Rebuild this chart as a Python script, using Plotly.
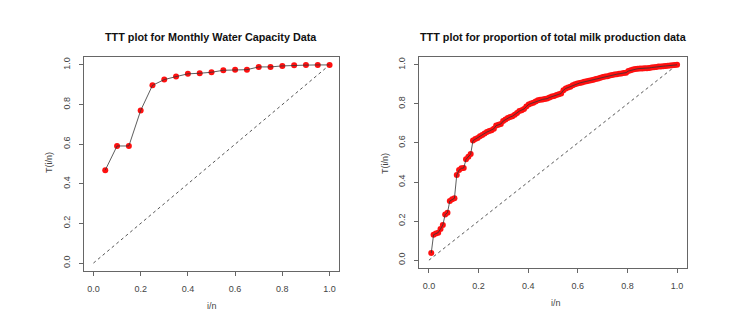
import plotly.graph_objects as go

# Left panel: Monthly Water Capacity Data (n = 20)
water_i_over_n = [0.05, 0.10, 0.15, 0.20, 0.25, 0.30, 0.35, 0.40, 0.45, 0.50,
                  0.55, 0.60, 0.65, 0.70, 0.75, 0.80, 0.85, 0.90, 0.95, 1.00]
water_ttt = [0.469, 0.591, 0.591, 0.770, 0.897, 0.926, 0.941, 0.955, 0.958, 0.963,
             0.973, 0.976, 0.976, 0.990, 0.990, 0.995, 0.998, 0.999, 1.000, 1.000]

# Right panel: proportion of total milk production data (n = 107)
milk_n = 107
milk_ttt = [
    0.037, 0.130, 0.136, 0.141, 0.160, 0.180, 0.234, 0.243, 0.303, 0.312,
    0.317, 0.436, 0.461, 0.470, 0.472, 0.516, 0.530, 0.543, 0.612, 0.620,
    0.625, 0.634, 0.641, 0.648, 0.656, 0.661, 0.665, 0.673, 0.689, 0.693,
    0.697, 0.712, 0.720, 0.728, 0.733, 0.737, 0.744, 0.754, 0.763, 0.767,
    0.774, 0.786, 0.797, 0.802, 0.806, 0.812, 0.818, 0.821, 0.823, 0.825,
    0.827, 0.833, 0.838, 0.841, 0.845, 0.849, 0.853, 0.870, 0.879, 0.884,
    0.888, 0.895, 0.900, 0.904, 0.907, 0.910, 0.913, 0.916, 0.918, 0.921,
    0.924, 0.927, 0.930, 0.934, 0.937, 0.940, 0.942, 0.945, 0.948, 0.950,
    0.952, 0.954, 0.956, 0.958, 0.960, 0.968, 0.972, 0.976, 0.979, 0.980,
    0.981, 0.981, 0.982, 0.983, 0.984, 0.986, 0.988, 0.989, 0.991, 0.992,
    0.993, 0.994, 0.995, 0.997, 0.998, 0.999, 1.000,
]
milk_i_over_n = [(i + 1) / milk_n for i in range(milk_n)]

diag = [0.0, 1.0]
tick_vals = [0.0, 0.2, 0.4, 0.6, 0.8, 1.0]
tick_text = ["0.0", "0.2", "0.4", "0.6", "0.8", "1.0"]

titles = ["TTT plot for Monthly Water Capacity Data",
          "TTT plot for proportion of total milk production data"]
x_label = "i/n"
y_label = "T(i/n)"

# page body has an 8px default margin; the figure fills the rest of the window
OFF = 8
W, H = 751 - OFF, 315 - OFF
FONT = "Liberation Sans, Arial, sans-serif"

fig = go.Figure()

def add_panel(k, xs, ys, msize):
    xa = "x" if k == 0 else "x2"
    ya = "y" if k == 0 else "y2"
    fig.add_trace(go.Scatter(x=diag, y=diag, mode="lines", xaxis=xa, yaxis=ya,
                             line=dict(color="#555555", width=1, dash="dot"),
                             showlegend=False, hoverinfo="skip"))
    fig.add_trace(go.Scatter(x=xs, y=ys, mode="markers", xaxis=xa, yaxis=ya,
                             marker=dict(color="#ff1010", size=msize,
                                         line=dict(color="#ff0000", width=0)),
                             showlegend=False))
    fig.add_trace(go.Scatter(x=xs, y=ys, mode="lines", xaxis=xa, yaxis=ya,
                             line=dict(color="#333333", width=0.8),
                             showlegend=False, hoverinfo="skip"))

add_panel(0, water_i_over_n, water_ttt, 6)
add_panel(1, milk_i_over_n, milk_ttt, 6)

def px_x(p):
    return (p - OFF) / W

def px_y(p):
    return 1 - (p - OFF) / H

axis_common = dict(range=[-0.04, 1.04], tickvals=tick_vals, ticktext=tick_text,
                   showgrid=False, zeroline=False, showline=True, mirror=True,
                   linecolor="#666666", linewidth=1, ticks="outside", ticklen=4,
                   tickcolor="#666666", tickfont=dict(family=FONT, size=9, color="#444444"),
                   ticklabelstandoff=5)

fig.update_layout(
    width=W, height=H,
    margin=dict(l=0, r=0, t=0, b=0),
    paper_bgcolor="white", plot_bgcolor="white",
    xaxis=dict(domain=[px_x(84), px_x(339)], anchor="y", **axis_common),
    yaxis=dict(domain=[px_y(271), px_y(57)], anchor="x", tickangle=-90, **axis_common),
    xaxis2=dict(domain=[px_x(419), px_x(687)], anchor="y2", **axis_common),
    yaxis2=dict(domain=[px_y(268), px_y(57)], anchor="x2", tickangle=-90, **axis_common),
)

annots = [
    (titles[0], 211, 37, 0, dict(family=FONT, size=10.8, color="#111111"), True),
    (titles[1], 553, 37, 0, dict(family=FONT, size=10.8, color="#111111"), True),
    (x_label, 212, 306, 0, dict(family=FONT, size=9, color="#444444"), False),
    (x_label, 556, 303, 0, dict(family=FONT, size=9, color="#444444"), False),
    (y_label, 49, 163, -90, dict(family=FONT, size=9, color="#444444"), False),
    (y_label, 385, 163, -90, dict(family=FONT, size=9, color="#444444"), False),
]
for text, x, y, ang, font, bold in annots:
    fig.add_annotation(text=f"<b>{text}</b>" if bold else text,
                       xref="paper", yref="paper", x=px_x(x), y=px_y(y),
                       xanchor="center", yanchor="middle", showarrow=False,
                       textangle=ang, font=font)

fig.write_html("out.html")
